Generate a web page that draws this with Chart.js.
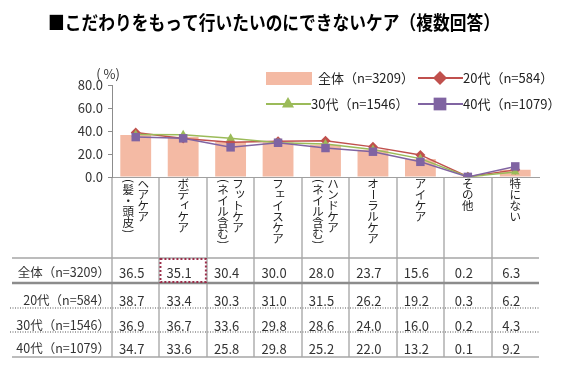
<!DOCTYPE html>
<html lang="ja">
<head>
<meta charset="utf-8">
<script src="https://cdn.jsdelivr.net/npm/chart.js@4.4.1/dist/chart.umd.min.js"></script>
<style>
  html, body { margin: 0; padding: 0; background: #fff; }
  #wrap { width: 566px; height: 370px; position: relative; }
</style>
</head>
<body>
<div id="wrap"><canvas id="chart" width="566" height="370"></canvas></div>
<script>
// データ
const TITLE = '■こだわりをもって行いたいのにできないケア（複数回答）';
const categories = ['ヘアケア（髪・頭皮）', 'ボディケア', 'フットケア（ネイル含む）', 'フェイスケア',
    'ハンドケア（ネイル含む）', 'オーラルケア', 'アイケア', 'その他', '特にない'];
const categoryLines = [['ヘアケア', '(髪・頭皮)'], ['ボディケア'], ['フットケア', '(ネイル含む)'], ['フェイスケア'],
    ['ハンドケア', '(ネイル含む)'], ['オーラルケア'], ['アイケア'], ['その他'], ['特にない']];
const seriesNames = ['全体（n=3209）', '20代（n=584）', '30代（n=1546）', '40代（n=1079）'];
const totalAll = [36.5, 35.1, 30.4, 30.0, 28.0, 23.7, 15.6, 0.2, 6.3];
const age20 = [38.7, 33.4, 30.3, 31.0, 31.5, 26.2, 19.2, 0.3, 6.2];
const age30 = [36.9, 36.7, 33.6, 29.8, 28.6, 24.0, 16.0, 0.2, 4.3];
const age40 = [34.7, 33.6, 25.8, 29.8, 25.2, 22.0, 13.2, 0.1, 9.2];
const yTicks = [0, 20, 40, 60, 80];
const highlightCell = [0, 1]; // 行, 列

const FONT = '"Noto Sans CJK JP", "Noto Sans", sans-serif';
const BAR_COLOR = '#F4BAA4';
const COLORS = ['#C0504D', '#9BBB59', '#8064A2'];
const STYLES = ['rectRot', 'triangle', 'rect'];

// 縦書きラベル
function drawVertical(c, text, x, yTop, size, adv) {
    let y = yTop;
    for (const ch of text) {
        const half = '()'.includes(ch);
        const step = half ? adv * 0.55 : adv;
        c.save();
        c.translate(x, y + step / 2);
        if (half || ch === 'ー') c.rotate(Math.PI / 2);
        if ('ァィゥェォッャュョ'.includes(ch)) c.translate(size * 0.18, -size * 0.2);
        c.fillText(ch, 0, 0);
        c.restore();
        y += step;
    }
}

const tablePlugin = {
    id: 'tableAndLabels',
    afterDraw(chart) {
        const c = chart.ctx;
        const xs = chart.scales.x;
        const cw = xs.getPixelForValue(1) - xs.getPixelForValue(0);
        c.save();

        // タイトル
        c.fillStyle = '#000';
        c.font = 'bold 19px ' + FONT;
        c.textAlign = 'left';
        c.textBaseline = 'middle';
        c.fillText(TITLE, 48, 23, 452);

        // (%)
        c.font = '13px ' + FONT;
        c.fillStyle = '#333';
        c.textAlign = 'center';
        c.fillText('( %)', 108, 74);

        // 凡例
        const legendPos = [[266, 78], [418, 78], [266, 104], [418, 104]];
        c.textAlign = 'left';
        c.font = '13px ' + FONT;
        seriesNames.forEach((name, i) => {
            const [lx, ly] = legendPos[i];
            if (i === 0) {
                c.fillStyle = BAR_COLOR;
                c.fillRect(lx, ly - 6, 46, 13);
            } else {
                c.strokeStyle = COLORS[i - 1];
                c.lineWidth = 2;
                c.beginPath();
                c.moveTo(lx, ly);
                c.lineTo(lx + 45, ly);
                c.stroke();
                c.fillStyle = COLORS[i - 1];
                Chart.helpers.drawPoint(c, {
                    pointStyle: STYLES[i - 1], radius: i === 3 ? 9 : 7, borderWidth: 0, rotation: 0
                }, lx + 22, ly);
            }
            c.fillStyle = '#222';
            c.fillText(name, lx + (i === 0 ? 52 : 45), ly);
        });

        // カテゴリラベル
        c.fillStyle = '#222';
        c.textAlign = 'center';
        c.textBaseline = 'middle';
        c.font = '11.5px ' + FONT;
        categoryLines.forEach((lines, i) => {
            const cx = xs.getPixelForValue(i);
            lines.forEach((txt, j) => {
                const off = lines.length === 1 ? 0 : (j === 0 ? 7.5 : -7.5);
                drawVertical(c, txt, cx + off, 178, 11.5, 11);
            });
        });

        // 表の罫線
        const left = 12, right = xs.right;
        c.strokeStyle = '#a6a6a6';
        c.lineWidth = 1.5;
        c.beginPath(); c.moveTo(left, 258); c.lineTo(right, 258); c.stroke();
        c.beginPath(); c.moveTo(left, 357); c.lineTo(right, 357); c.stroke();
        c.strokeStyle = '#8c8c8c';
        c.lineWidth = 2.5;
        c.beginPath(); c.moveTo(left, 283); c.lineTo(right, 283); c.stroke();
        c.strokeStyle = '#8c8c8c';
        c.lineWidth = 1.5;
        c.setLineDash([1, 1.5]);
        [308, 332].forEach(y => {
            c.beginPath(); c.moveTo(left - 2, y); c.lineTo(right, y); c.stroke();
        });
        c.setLineDash([]);

        // 表の数値
        const rows = [totalAll, age20, age30, age40];
        const baselines = [278, 306, 331, 354];
        c.textBaseline = 'alphabetic';
        c.fillStyle = '#333';
        rows.forEach((vals, r) => {
            c.font = '12.5px ' + FONT;
            c.textAlign = 'right';
            c.fillText(seriesNames[r], 110, baselines[r] - 1);
            c.font = '13px ' + FONT;
            c.textAlign = 'center';
            vals.forEach((v, i) => {
                c.fillText(v.toFixed(1), xs.getPixelForValue(i) - 4, baselines[r]);
            });
        });

        // 強調セル
        const hx = xs.getPixelForValue(highlightCell[1]) - cw / 2;
        c.strokeStyle = '#9b2d4a';
        c.lineWidth = 2;
        c.setLineDash([2, 2]);
        c.strokeRect(hx + 1, 259, cw - 2, 23);
        c.restore();
    }
};

const ctx = document.getElementById('chart').getContext('2d');
const lineSets = [age20, age30, age40].map((data, i) => ({
    type: 'line',
    label: seriesNames[i + 1],
    data: data,
    borderColor: COLORS[i],
    backgroundColor: COLORS[i],
    borderWidth: 1.5,
    pointStyle: STYLES[i],
    pointRadius: i === 2 ? 6 : 5,
    pointBorderWidth: 0,
    tension: 0,
    order: 3 - i
}));

const chart = new Chart(ctx, {
    type: 'bar',
    data: {
        labels: categories,
        datasets: [
            {
                type: 'bar',
                label: seriesNames[0],
                data: totalAll,
                backgroundColor: BAR_COLOR,
                barPercentage: 0.65,
                categoryPercentage: 1,
                order: 4
            },
            ...lineSets
        ]
    },
    options: {
        responsive: false,
        animation: false,
        devicePixelRatio: 1,
        layout: { padding: { top: 85, right: 27, left: 0, bottom: 0 } },
        plugins: { legend: { display: false }, tooltip: { enabled: false } },
        scales: {
            x: {
                ticks: { display: false },
                grid: {
                    offset: true,
                    drawOnChartArea: false,
                    tickLength: 180,
                    lineWidth: 2,
                    color: c => c.type === 'tick' ? '#c3c3c3' : 'rgba(0,0,0,0)'
                },
                border: { color: '#a0a0a0', width: 1 },
                afterFit: s => { s.height = 193; }
            },
            y: {
                min: 0,
                max: 80,
                afterBuildTicks: s => { s.ticks = yTicks.map(v => ({ value: v })); },
                ticks: {
                    callback: v => Number(v).toFixed(1),
                    font: { family: FONT, size: 13 },
                    color: '#333',
                    padding: 5
                },
                grid: { drawOnChartArea: false, tickLength: 4, color: '#8c8c8c' },
                border: { color: '#8c8c8c' },
                afterFit: s => { s.width = 112; }
            }
        }
    },
    plugins: [tablePlugin]
});
</script>
</body>
</html>
